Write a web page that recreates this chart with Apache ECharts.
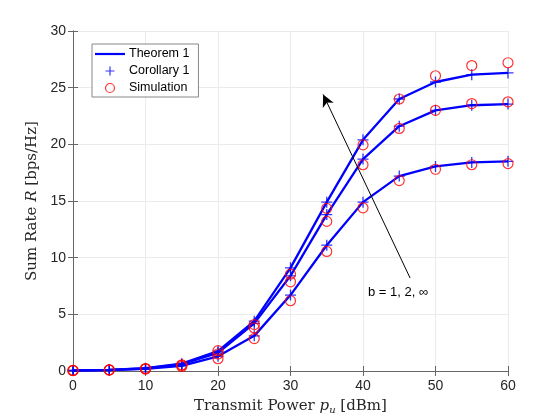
<!DOCTYPE html>
<html><head><meta charset="utf-8">
<script src="https://cdn.jsdelivr.net/npm/echarts@6/dist/echarts.min.js"></script>
<style>html,body{margin:0;padding:0;background:#fff}#c{width:560px;height:420px}</style>
</head><body><div id="c"></div>
<script>
var xValues = [0,5,10,15,20,25,30,35,40,45,50,55,60];
var theoremB1 = [0.04,0.08,0.18,0.45,1.3,3.1,6.7,11.1,14.9,17.2,18.05,18.4,18.5];
var theoremB2 = [0.05,0.1,0.22,0.6,1.6,4.2,8.4,13.8,18.7,21.6,23.0,23.45,23.55];
var theoremBInf = [0.05,0.1,0.25,0.65,1.75,4.4,9.1,14.9,20.4,24.0,25.5,26.15,26.3];
var corollaryB1 = [0.04,0.08,0.18,0.45,1.3,3.1,6.7,11.1,14.9,17.2,18.05,18.4,18.5];
var corollaryB2 = [0.05,0.1,0.22,0.6,1.6,4.2,8.4,13.8,18.7,21.6,23.0,23.45,23.55];
var corollaryBInf = [0.05,0.1,0.25,0.65,1.75,4.4,9.1,14.9,20.4,24.0,25.5,26.15,26.3];
var simB1 = [0.03,0.08,0.17,0.4,1.08,2.86,6.2,10.55,14.4,16.8,17.8,18.2,18.3];
var simB2 = [0.05,0.1,0.2,0.5,1.5,3.8,7.87,13.2,18.2,21.4,23.0,23.6,23.75];
var simBInf = [0.05,0.1,0.22,0.55,1.8,4.1,8.55,14.35,19.95,24.0,26.05,26.95,27.2];
var arrowTail = [46.5, 8.2];
var arrowHead = [34.5, 24.4];

function pairs(ys){ return xValues.map(function(x,i){ return [x, ys[i]]; }); }

var blue = '#0000ff', red = '#ff0000';
var plusPath = 'path://M0,-5L0,5M-5,0L5,0';

function thm(ys){ return {name:'Theorem 1', type:'line', data:pairs(ys), symbol:'none', lineStyle:{color:blue,width:2.3}, itemStyle:{color:blue}, z:3}; }
function cor(ys){ return {name:'Corollary 1', type:'scatter', data:pairs(ys), symbol:plusPath, symbolSize:11, itemStyle:{color:'none', borderColor:blue, borderWidth:1.3}, z:4}; }
function sim(ys){ return {name:'Simulation', type:'scatter', data:pairs(ys), symbol:'circle', symbolSize:10, itemStyle:{color:'none', borderColor:red, borderWidth:1.2}, z:5}; }

var series = [thm(theoremB1), thm(theoremB2), thm(theoremBInf),
  cor(corollaryB1), cor(corollaryB2), cor(corollaryBInf),
  sim(simB1), sim(simB2), sim(simBInf)];
series[0].markLine = {
  silent:true, symbol:['none','arrow'], symbolSize:[9,12],
  lineStyle:{color:'#000', width:1, type:'solid'}, label:{show:false},
  data:[[{coord:arrowTail},{coord:arrowHead}]]
};

var tickFont = {fontFamily:'Liberation Sans, Arial, sans-serif', fontSize:14, color:'#262626'};
var axisColor = '#666';
var chart = echarts.init(document.getElementById('c'), null, {renderer:'canvas'});
chart.setOption({
  animation:false,
  grid:{left:73, right:52, top:31, bottom:46},
  legend:{
    orient:'vertical', left:92, top:44, padding:[3,9,2,3], itemGap:3,
    itemWidth:30, itemHeight:9, backgroundColor:'#fff', borderColor:'#888', borderWidth:1, borderRadius:0,
    textStyle:{fontFamily:'Liberation Sans, Arial, sans-serif', fontSize:12.5, lineHeight:14, color:'#000', padding:[0,0,0,-1]},
    data:[
      {name:'Theorem 1', icon:'path://M0,0L30,0L30,2.2L0,2.2Z', itemStyle:{color:blue}},
      {name:'Corollary 1', icon:plusPath, itemStyle:{color:'none', borderColor:blue, borderWidth:1.2}},
      {name:'Simulation', icon:'circle', itemStyle:{color:'none', borderColor:red, borderWidth:1.2}}
    ]
  },
  xAxis:[{
    type:'value', min:0, max:60, interval:10,
    name:'{n|Transmit Power }{i|p}{s|u}{n| [dBm]}', nameLocation:'middle', nameGap:26,
    nameTextStyle:{rich:{
      n:{fontFamily:'DejaVu Serif, Liberation Serif, serif', fontSize:15, color:'#262626'},
      i:{fontFamily:'DejaVu Serif, Liberation Serif, serif', fontStyle:'italic', fontSize:15, color:'#262626'},
      s:{fontFamily:'DejaVu Serif, Liberation Serif, serif', fontStyle:'italic', fontSize:10, color:'#262626', verticalAlign:'bottom', padding:[8,0,0,0]}
    }},
    axisLine:{lineStyle:{color:axisColor, width:1}}, axisTick:{inside:true, length:5, lineStyle:{color:axisColor}},
    axisLabel:Object.assign({margin:8}, tickFont),
    splitLine:{show:true, lineStyle:{color:'#ebebeb', width:1}}
  },{
    type:'value', min:0, max:60, interval:10, position:'top',
    axisLine:{show:true, lineStyle:{color:axisColor, width:1}}, axisTick:{inside:true, length:5, lineStyle:{color:axisColor}},
    axisLabel:{show:false}, splitLine:{show:false}
  }],
  yAxis:[{
    type:'value', min:0, max:30, interval:5,
    name:'{n|Sum Rate }{i|R}{n| [bps/Hz]}', nameLocation:'middle', nameGap:33,
    nameTextStyle:{rich:{
      n:{fontFamily:'DejaVu Serif, Liberation Serif, serif', fontSize:15, color:'#262626'},
      i:{fontFamily:'DejaVu Serif, Liberation Serif, serif', fontStyle:'italic', fontSize:15, color:'#262626'}
    }},
    axisLine:{show:true, lineStyle:{color:axisColor, width:1}}, axisTick:{show:true, inside:true, length:5, lineStyle:{color:axisColor}},
    axisLabel:Object.assign({margin:7}, tickFont),
    splitLine:{show:true, lineStyle:{color:'#ebebeb', width:1}}
  },{
    type:'value', min:0, max:30, interval:5, position:'right',
    axisLine:{show:true, lineStyle:{color:axisColor, width:1}}, axisTick:{show:true, inside:true, length:5, lineStyle:{color:axisColor}},
    axisLabel:{show:false}, splitLine:{show:false}
  }],
  graphic:[{
    type:'text', left:368, top:286,
    style:{text:'b = 1, 2, \u221E', fontFamily:'Liberation Sans, Arial, sans-serif', fontSize:13, fill:'#000'}
  }],
  series:series
});
</script></body></html>
